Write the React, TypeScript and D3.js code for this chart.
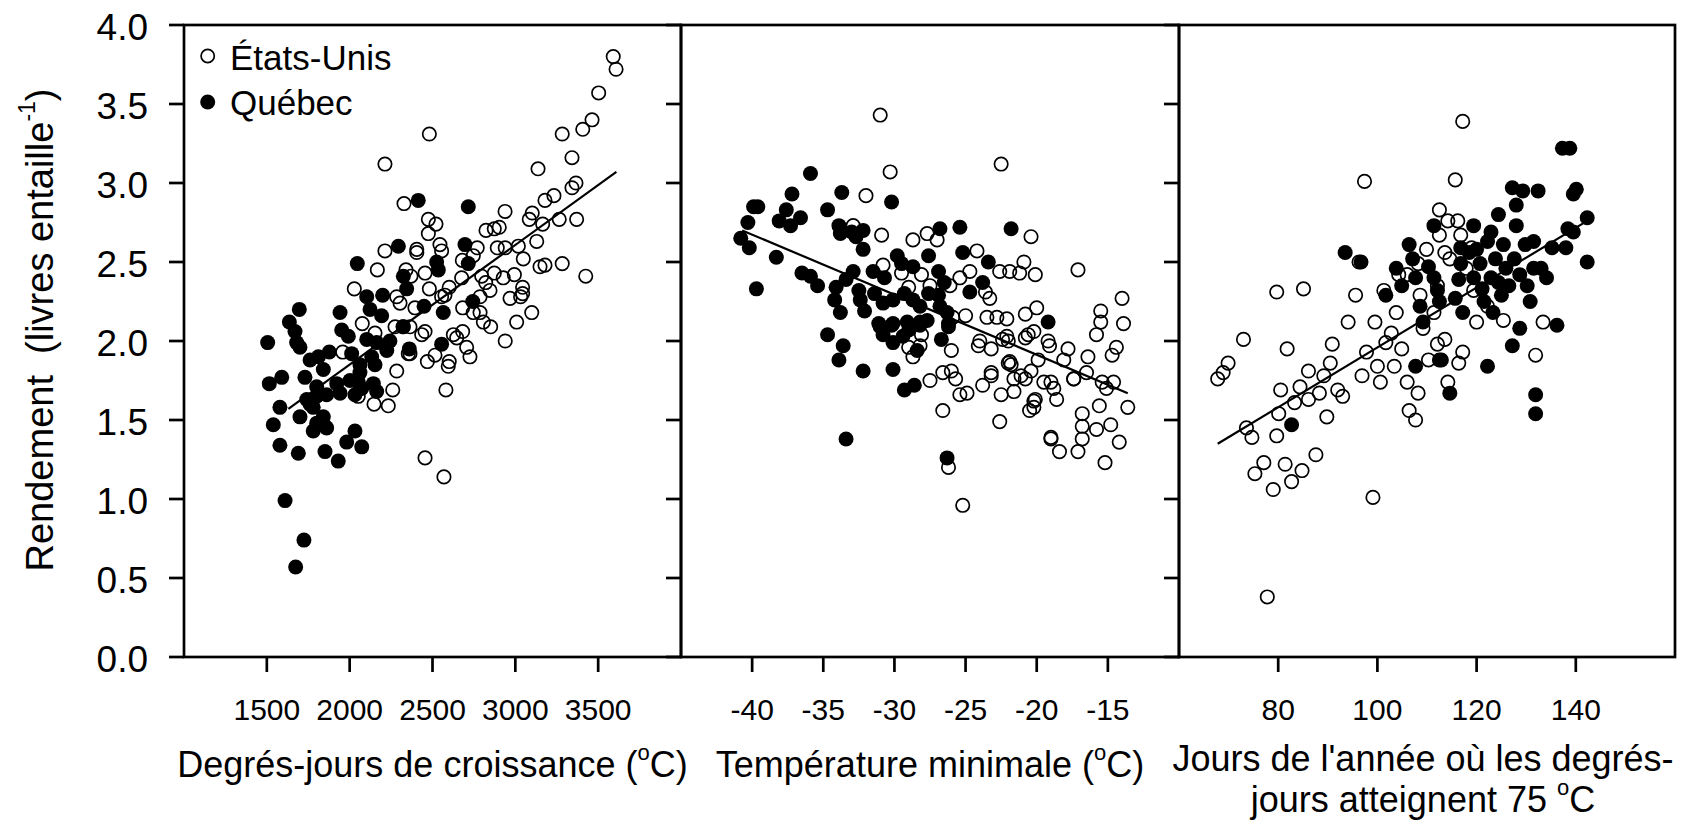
import * as d3 from "d3";

// ---- data ----
const yTicks = [0, 0.5, 1, 1.5, 2, 2.5, 3, 3.5, 4];
const gddTicks = [1500, 2000, 2500, 3000, 3500];
const tminTicks = [-40, -35, -30, -25, -20, -15];
const daysTicks = [80, 100, 120, 140];

// Degrés-jours de croissance vs rendement
const gddUsa = [
  [3591, 3.8], [3608, 3.72], [3503, 3.57], [3463, 3.4], [3407, 3.34], [3283, 3.31], [2481, 3.31],
  [3342, 3.16], [3137, 3.09], [3366, 3.0], [3342, 2.97], [3233, 2.92], [3179, 2.89], [2938, 2.82],
  [3102, 2.81], [3084, 2.77], [3165, 2.74], [3265, 2.77], [3370, 2.77], [2328, 2.87], [2475, 2.77],
  [2521, 2.74], [2475, 2.68], [2823, 2.7], [2873, 2.71], [2903, 2.72], [3129, 2.63], [3018, 2.6],
  [2891, 2.59], [2939, 2.59], [2770, 2.59], [2545, 2.61], [2555, 2.57], [2405, 2.58], [3048, 2.52],
  [3149, 2.47], [3179, 2.48], [3283, 2.49], [3425, 2.41], [2994, 2.42], [2927, 2.4], [2873, 2.43],
  [2797, 2.41], [2821, 2.37], [2676, 2.4], [2601, 2.34], [2481, 2.33], [2455, 2.43], [3044, 2.34],
  [3044, 2.3], [3032, 2.28], [2968, 2.27], [2847, 2.32], [2787, 2.28], [2555, 2.28], [3099, 2.18],
  [3008, 2.12], [2682, 2.21], [2787, 2.18], [2807, 2.12], [2851, 2.09], [2746, 2.18], [2939, 2.0],
  [2682, 2.06], [2626, 2.04], [2646, 2.02], [2706, 1.96], [2726, 1.9], [2601, 1.87], [2469, 1.87],
  [2515, 1.91], [2455, 2.06], [2435, 2.04], [2354, 1.92], [2213, 3.12], [2213, 2.57], [2405, 2.56],
  [2167, 2.45], [2028, 2.33], [2076, 2.11], [2284, 2.28], [2304, 2.24], [2274, 2.09], [1958, 1.93],
  [2260, 1.69], [2153, 2.05], [2284, 1.81], [2052, 1.65], [2147, 1.6], [2233, 1.59], [2455, 1.26],
  [2569, 1.14], [2324, 2.09], [2364, 2.09], [2364, 1.92], [2595, 1.84], [2581, 1.69], [2340, 2.45],
  [2370, 2.41], [2394, 2.21], [2680, 2.51], [2746, 2.54], [2575, 2.29],
];
const gddQuebec = [
  [2414, 2.89], [2716, 2.85], [2696, 2.61], [2716, 2.49], [2525, 2.5], [2535, 2.45], [2743, 2.25],
  [2565, 2.18], [2449, 2.22], [2555, 1.98], [2360, 1.95], [2344, 2.33], [2324, 2.41], [2322, 2.09],
  [2046, 2.49], [2294, 2.6], [1696, 2.2], [1636, 2.12], [1670, 2.06], [1505, 1.99], [1942, 2.18],
  [1952, 2.07], [1992, 2.03], [2103, 2.28], [2199, 2.29], [2123, 2.2], [2193, 2.16], [1680, 1.99],
  [1700, 1.96], [1761, 1.88], [1811, 1.9], [1877, 1.93], [2012, 1.92], [2103, 2.01], [2163, 1.99],
  [2243, 2.0], [2224, 1.94], [2133, 1.9], [2153, 1.85], [2062, 1.85], [1590, 1.77], [1515, 1.73],
  [1730, 1.77], [1841, 1.82], [1801, 1.71], [1922, 1.73], [2002, 1.75], [2062, 1.8], [2143, 1.73],
  [2163, 1.68], [1861, 1.66], [1942, 1.67], [2032, 1.66], [2052, 1.74], [2073, 1.7], [1579, 1.58],
  [1539, 1.47], [1700, 1.52], [1780, 1.58], [1841, 1.52], [1861, 1.45], [1780, 1.43], [1579, 1.34],
  [1690, 1.29], [1851, 1.3], [1931, 1.24], [2032, 1.43], [1982, 1.36], [2073, 1.33], [1610, 0.99],
  [1724, 0.74], [1674, 0.57], [1741, 1.63], [1761, 1.6], [1801, 1.65], [1851, 1.46], [1801, 1.48],
];
const gddTrend = [[1630, 1.57], [3610, 3.07]];

// Température minimale vs rendement
const tminUsa = [
  [-31.0, 3.43], [-22.5, 3.12], [-30.3, 3.07], [-32.0, 2.92], [-30.9, 2.67], [-28.7, 2.64],
  [-27.7, 2.68], [-27.0, 2.64], [-20.4, 2.66], [-24.2, 2.57], [-20.9, 2.5], [-22.6, 2.44],
  [-21.9, 2.44], [-21.2, 2.43], [-20.1, 2.42], [-24.7, 2.44], [-25.4, 2.4], [-17.1, 2.45],
  [-30.8, 2.48], [-28.1, 2.42], [-29.0, 2.34], [-29.5, 2.43], [-26.1, 2.35], [-23.6, 2.31],
  [-23.3, 2.27], [-14.0, 2.27], [-15.5, 2.19], [-15.5, 2.12], [-13.9, 2.11], [-20.0, 2.21],
  [-20.8, 2.17], [-22.1, 2.14], [-22.8, 2.15], [-23.5, 2.15], [-25.0, 2.16], [-25.9, 2.15],
  [-27.5, 2.35], [-32.9, 2.73], [-26.0, 1.94], [-28.7, 1.9], [-29.0, 1.96], [-28.2, 1.97],
  [-28.1, 2.04], [-27.5, 1.75], [-26.6, 1.8], [-26.0, 1.81], [-25.7, 1.76], [-25.4, 1.66],
  [-24.9, 1.67], [-26.6, 1.56], [-25.2, 0.96], [-26.2, 1.2], [-24.0, 2.0], [-24.1, 1.97],
  [-23.2, 1.95], [-23.8, 1.72], [-23.2, 1.8], [-23.2, 1.78], [-22.5, 1.66], [-21.6, 1.68],
  [-22.6, 1.49], [-22.1, 2.03], [-22.0, 2.0], [-22.4, 2.01], [-21.9, 1.87], [-21.8, 1.85],
  [-22.0, 1.86], [-21.1, 1.78], [-20.8, 1.76], [-21.6, 1.76], [-20.4, 1.81], [-20.8, 2.02],
  [-20.6, 2.04], [-20.2, 2.06], [-19.9, 1.88], [-20.2, 1.62], [-20.1, 1.63], [-20.5, 1.56],
  [-20.2, 1.58], [-19.5, 1.74], [-19.2, 2.0], [-19.1, 1.97], [-19.0, 1.74], [-18.8, 1.7],
  [-18.6, 1.63], [-19.0, 1.39], [-19.0, 1.38], [-18.4, 1.3], [-17.8, 1.95], [-18.1, 1.88],
  [-17.4, 1.76], [-16.5, 1.8], [-17.4, 1.76], [-16.4, 1.9], [-16.8, 1.54], [-16.8, 1.46],
  [-16.8, 1.38], [-17.1, 1.3], [-15.8, 2.04], [-15.8, 1.44], [-15.6, 1.59], [-14.4, 1.96],
  [-14.7, 1.91], [-15.4, 1.74], [-15.1, 1.7], [-14.6, 1.74], [-14.8, 1.47], [-14.2, 1.36],
  [-15.2, 1.23], [-13.6, 1.58],
];
const tminQuebec = [
  [-35.9, 3.06], [-37.2, 2.93], [-33.7, 2.94], [-30.2, 2.88], [-39.9, 2.85], [-39.6, 2.85],
  [-37.6, 2.83], [-34.7, 2.83], [-40.3, 2.75], [-38.1, 2.76], [-37.3, 2.73], [-36.6, 2.78],
  [-40.8, 2.65], [-40.2, 2.59], [-38.3, 2.53], [-39.7, 2.33], [-36.5, 2.43], [-35.9, 2.41],
  [-35.4, 2.35], [-33.9, 2.73], [-33.8, 2.68], [-33.0, 2.69], [-32.2, 2.7], [-32.2, 2.58],
  [-32.7, 2.66], [-26.8, 2.71], [-25.4, 2.72], [-21.8, 2.71], [-25.2, 2.56], [-23.4, 2.5],
  [-23.8, 2.37], [-24.7, 2.31], [-19.2, 2.12], [-27.6, 2.54], [-26.9, 2.44], [-26.5, 2.37],
  [-29.8, 2.54], [-29.5, 2.49], [-31.5, 2.44], [-30.7, 2.4], [-32.9, 2.44], [-33.4, 2.39],
  [-34.1, 2.34], [-34.2, 2.26], [-33.8, 2.18], [-32.5, 2.32], [-32.4, 2.26], [-32.1, 2.19],
  [-31.4, 2.3], [-30.8, 2.24], [-30.1, 2.26], [-29.3, 2.3], [-28.7, 2.26], [-28.2, 2.22],
  [-28.7, 2.47], [-27.6, 2.3], [-26.9, 2.29], [-26.8, 2.22], [-26.3, 2.18], [-31.1, 2.11],
  [-30.1, 2.11], [-29.1, 2.12], [-28.2, 2.12], [-27.7, 2.13], [-26.2, 2.11], [-34.7, 2.04],
  [-33.6, 1.97], [-33.9, 1.88], [-32.2, 1.81], [-30.1, 1.82], [-29.3, 1.69], [-28.6, 1.72],
  [-33.4, 1.38], [-26.3, 1.26], [-31.0, 2.09], [-30.2, 2.1], [-30.8, 2.04], [-30.1, 1.99],
  [-29.4, 2.03], [-28.4, 1.94], [-29.0, 2.07], [-28.2, 2.1], [-26.7, 2.01], [-26.2, 2.09],
];
const tminTrend = [[-40.7, 2.7], [-13.6, 1.67]];

// Jours où les degrés-jours atteignent 75 °C vs rendement
const daysUsa = [
  [67.8, 1.76], [68.9, 1.8], [69.9, 1.86], [73.0, 2.01], [73.6, 1.45], [74.7, 1.39], [75.3, 1.16],
  [77.1, 1.23], [79.0, 1.06], [79.7, 2.31], [80.1, 1.54], [79.7, 1.4], [80.5, 1.69], [81.8, 1.95],
  [81.4, 1.22], [82.7, 1.11], [83.3, 1.61], [85.1, 2.33], [84.8, 1.18], [84.4, 1.71], [86.1, 1.81],
  [86.1, 1.63], [87.6, 1.28], [88.3, 1.67], [89.2, 1.78], [89.8, 1.52], [90.5, 1.86], [90.9, 1.98],
  [92.0, 1.69], [93.0, 1.65], [94.1, 2.12], [95.6, 2.29], [96.9, 1.78], [97.4, 3.01], [96.3, 2.5],
  [97.8, 1.93], [99.1, 1.01], [99.5, 2.12], [100.0, 1.84], [100.6, 1.74], [101.7, 1.99],
  [102.8, 2.05], [103.4, 1.84], [103.8, 2.18], [104.3, 2.42], [104.9, 1.95], [106.0, 1.74],
  [106.4, 1.56], [107.7, 1.5], [108.2, 1.67], [108.6, 2.29], [109.2, 2.08], [110.3, 1.88],
  [111.4, 2.18], [112.1, 2.35], [112.5, 2.67], [113.6, 2.56], [114.2, 2.76], [114.6, 2.52],
  [115.7, 3.02], [116.2, 2.76], [117.2, 3.39], [116.8, 2.67], [117.2, 1.93], [116.4, 1.86],
  [117.9, 2.46], [114.2, 1.74], [120.0, 2.12], [122.2, 2.22], [125.4, 2.13], [131.9, 1.91],
  [133.4, 2.12], [106.0, 2.42], [108.2, 2.49], [109.9, 2.58], [112.5, 2.83], [112.1, 1.98],
  [113.6, 2.01], [101.3, 2.32], [119.0, 2.59], [119.4, 2.32], [77.8, 0.38],
];
const daysQuebec = [
  [82.7, 1.47], [93.5, 2.56], [96.7, 2.5], [101.7, 2.29], [103.8, 2.46], [104.9, 2.35],
  [106.4, 2.61], [107.1, 2.52], [107.7, 2.4], [108.6, 2.22], [109.2, 2.12], [107.7, 1.84],
  [110.3, 2.47], [111.4, 2.4], [112.1, 2.32], [112.5, 2.25], [112.9, 1.88], [112.5, 1.88],
  [114.6, 1.67], [115.7, 2.27], [116.4, 2.39], [116.8, 2.49], [117.2, 2.18], [118.5, 2.56],
  [119.4, 2.4], [120.0, 2.58], [120.7, 2.49], [121.1, 2.33], [121.5, 2.25], [122.2, 2.63],
  [122.9, 2.69], [122.9, 2.4], [123.3, 2.18], [122.2, 1.84], [123.8, 2.52], [124.4, 2.37],
  [125.0, 2.29], [125.4, 2.61], [125.9, 2.46], [126.5, 2.35], [127.2, 2.97], [127.2, 1.97],
  [127.6, 2.52], [128.0, 2.86], [128.0, 2.73], [128.7, 2.42], [128.7, 2.08], [129.3, 2.95],
  [129.8, 2.61], [130.2, 2.35], [130.8, 2.25], [131.5, 2.46], [131.5, 2.63], [131.9, 1.66],
  [131.9, 1.54], [132.4, 2.95], [133.0, 2.46], [134.1, 2.4], [135.2, 2.59], [136.2, 2.1],
  [137.3, 3.22], [138.8, 3.22], [138.4, 2.71], [138.0, 2.59], [139.5, 2.93], [140.1, 2.96],
  [139.5, 2.69], [142.3, 2.78], [142.3, 2.5], [111.4, 2.73], [116.8, 2.59], [119.4, 2.73],
  [124.4, 2.8],
];
const daysTrend = [[67.8, 1.35], [142.3, 2.76]];

// ---- layout ----
const W = 1686;
const H = 824;
const top = 25;
const bottom = 657;
const font = "'Liberation Sans', Arial, Helvetica, sans-serif";
const axisW = 2.7;
const tickLen = 15;
const r = 7.5;

const y = d3.scaleLinear().domain([0, 4]).range([bottom, top]);

const panels = [
  { left: 184, right: 681, domain: [1000, 4000], ticks: gddTicks, usa: gddUsa, qc: gddQuebec, trend: gddTrend },
  { left: 681, right: 1179, domain: [-45, -10], ticks: tminTicks, usa: tminUsa, qc: tminQuebec, trend: tminTrend },
  { left: 1179, right: 1675, domain: [60, 160], ticks: daysTicks, usa: daysUsa, qc: daysQuebec, trend: daysTrend },
];

function Deg() {
  return (
    <>
      <tspan fontSize={22} dy={-17}>o</tspan>
      <tspan dy={17}>C)</tspan>
    </>
  );
}

export default function App() {
  const line = d3.line();
  return (
    <div style={{ position: "absolute", left: 0, top: 0 }}>
      <svg width={W} height={H} style={{ display: "block", background: "#fff" }} fontFamily={font}>
        {panels.map((p, i) => {
          const x = d3.scaleLinear().domain(p.domain).range([p.left, p.right]);
          const cx = (p.left + p.right) / 2;
          return (
            <g key={i}>
              {/* data */}
              {p.usa.map((d, j) => (
                <circle key={"u" + j} cx={x(d[0])} cy={y(d[1])} r={r - 0.8} fill="none" stroke="#000" strokeWidth={1.7} />
              ))}
              {p.qc.map((d, j) => (
                <circle key={"q" + j} cx={x(d[0])} cy={y(d[1])} r={r} fill="#000" />
              ))}
              <path d={line(p.trend.map((d) => [x(d[0]), y(d[1])]))!} stroke="#000" strokeWidth={2.2} fill="none" />
              {/* frame */}
              <rect x={p.left} y={top} width={p.right - p.left} height={bottom - top} fill="none" stroke="#000" strokeWidth={axisW} />
              {yTicks.map((t) => (
                <line key={t} x1={p.left - tickLen} x2={p.left} y1={y(t)} y2={y(t)} stroke="#000" strokeWidth={axisW} />
              ))}
              {p.ticks.map((t) => (
                <g key={t}>
                  <line x1={x(t)} x2={x(t)} y1={bottom} y2={bottom + tickLen} stroke="#000" strokeWidth={axisW} />
                  <text x={x(t)} y={720} fontSize={30} textAnchor="middle">{t}</text>
                </g>
              ))}
              {i === 0 && (
                <text x={cx} y={777} fontSize={36} textAnchor="middle">
                  Degrés-jours de croissance (<Deg />
                </text>
              )}
              {i === 1 && (
                <text x={cx} y={777} fontSize={36} textAnchor="middle">
                  Température minimale (<Deg />
                </text>
              )}
              {i === 2 && (
                <>
                  <text x={cx - 4} y={771} fontSize={36} textAnchor="middle">Jours de l'année où les degrés-</text>
                  <text x={cx - 4} y={812} fontSize={36} textAnchor="middle">
                    jours atteignent 75 <tspan fontSize={22} dy={-17}>o</tspan><tspan dy={17}>C</tspan>
                  </text>
                </>
              )}
            </g>
          );
        })}
        {yTicks.map((t) => (
          <text key={t} x={148} y={y(t)} dy="0.4em" fontSize={37} textAnchor="end">{t.toFixed(1)}</text>
        ))}
        <text transform="translate(53,330) rotate(-90)" fontSize={38} textAnchor="middle">
          {"Rendement\u00A0\u00A0(livres entaille"}<tspan fontSize={23} dy={-18}>-1</tspan><tspan dy={18}>)</tspan>
        </text>
        {/* legend */}
        <circle cx={207.7} cy={56} r={6.6} fill="#fff" stroke="#000" strokeWidth={1.7} />
        <text x={230} y={69.5} fontSize={35}>États-Unis</text>
        <circle cx={207.7} cy={102} r={7.5} fill="#000" />
        <text x={230} y={115} fontSize={35}>Québec</text>
      </svg>
    </div>
  );
}
